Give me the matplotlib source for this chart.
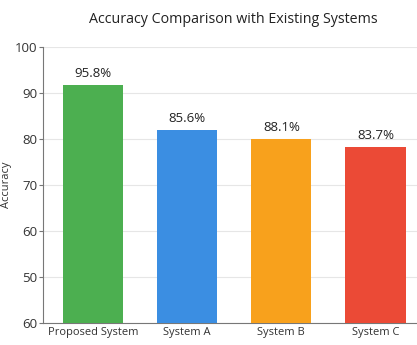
import matplotlib.pyplot as plt

### DATA ###

systems = ["Proposed System", "System A", "System B", "System C"]
bar_heights = [91.7, 82.0, 80.0, 78.3]  # heights as drawn in the picture
value_labels = ["95.8%", "85.6%", "88.1%", "83.7%"]  # labels as printed above the bars
colors = ["#4caf50", "#3b8ee2", "#f8a11c", "#eb4a36"]

y_ticks = [40, 50, 60, 70, 80, 90, 100]
y_tick_labels = ["60", "50", "60", "70", "80", "90", "100"]

### PLOT ###

plt.rcParams["font.family"] = ["Open Sans", "DejaVu Sans"]

fig = plt.figure(figsize=(4.17, 3.45), dpi=100)
ax = fig.add_axes([0.103, 0.064, 0.897, 0.80])

x = range(len(systems))
bars = ax.bar(x, bar_heights, width=0.64, color=colors, zorder=3)

for bar, label in zip(bars, value_labels):
    ax.text(bar.get_x() + bar.get_width() / 2, bar.get_height() + 1.0, label,
            ha="center", va="bottom", fontsize=9.5, color="#222222")

ax.set_xlim(-0.53, 3.44)
ax.set_ylim(40, 100)
ax.set_yticks(y_ticks)
ax.set_yticklabels(y_tick_labels)
ax.set_xticks(list(x))
ax.set_xticklabels(systems)

ax.tick_params(axis="x", length=0, labelsize=8, labelcolor="#333333", pad=3)
ax.tick_params(axis="y", length=3, labelsize=9.5, labelcolor="#333333", color="#777777", pad=1)

ax.set_ylabel("Accuracy", fontsize=8, color="#333333", labelpad=2)
ax.set_title("Accuracy Comparison with Existing Systems", fontsize=10.3, color="#222222", pad=17, x=0.51)

ax.yaxis.grid(True, color="#e6e6e6", linewidth=0.8, zorder=0)
for side in ["top", "right"]:
    ax.spines[side].set_visible(False)
ax.spines["left"].set_color("#777777")
ax.spines["bottom"].set_color("#777777")

fig.savefig("out.png", dpi=100)
